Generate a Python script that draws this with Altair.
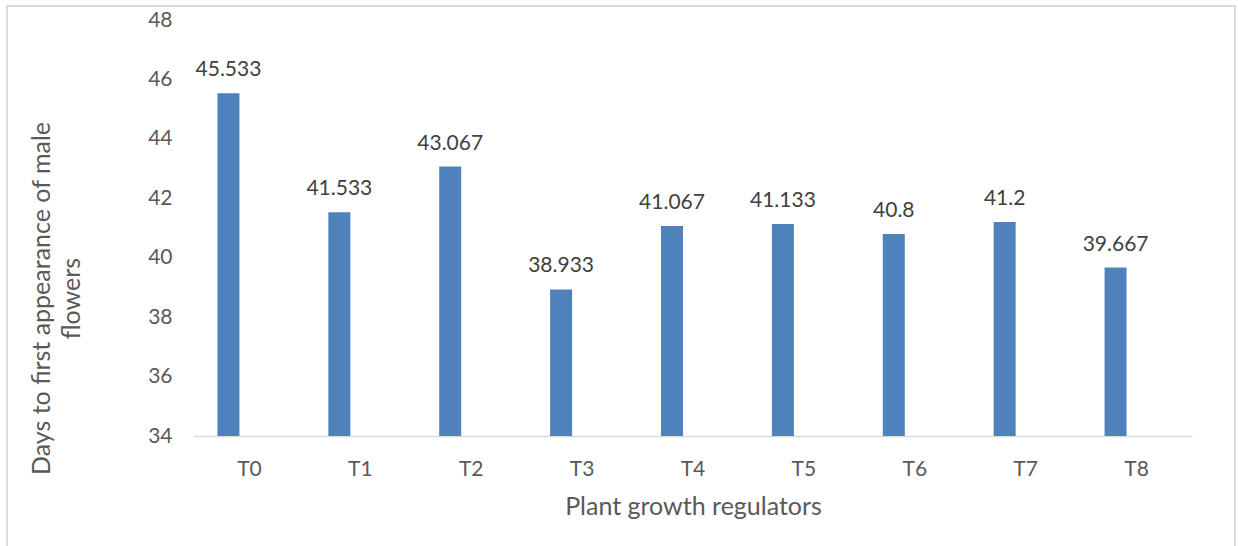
import altair as alt
import pandas as pd

# Treatments and mean days to first male flower
treatments = ["T0", "T1", "T2", "T3", "T4", "T5", "T6", "T7", "T8"]
days = [45.533, 41.533, 43.067, 38.933, 41.067, 41.133, 40.8, 41.2, 39.667]
y_ticks = [34, 36, 38, 40, 42, 44, 46, 48]
y_min, y_max = 34, 48

df = pd.DataFrame({"treatment": treatments, "days": days})

FONT = "Lato"
TEXT = "#595959"
BLUE = "#4F81BD"

W, H = 998, 416
LEFT, TOP = 194, 20

x_enc = alt.X(
    "treatment:N",
    sort=treatments,
    scale=alt.Scale(paddingInner=0, paddingOuter=0),
    axis=alt.Axis(
        title="Plant growth regulators",
        titleFont=FONT, titleFontSize=25, titleFontWeight="normal", titleColor=TEXT,
        titleBaseline="alphabetic", titleY=78,
        labelFont=FONT, labelFontSize=21, labelColor=TEXT, labelPadding=22,
        labelAngle=0,
        domainColor="#d9d9d9", domainWidth=1.5, ticks=False, grid=False,
    ),
)
y_enc = alt.Y(
    "days:Q",
    scale=alt.Scale(domain=[y_min, y_max], nice=False, zero=False),
    axis=alt.Axis(
        values=y_ticks,
        title=["Days to first appearance of male", "flowers"],
        titleFont=FONT, titleFontSize=25, titleFontWeight="normal", titleColor=TEXT,
        titleAngle=-90, titleAlign="center", titleBaseline="bottom",
        titleX=-140, titleY=278, titleLineHeight=30,
        labelFont=FONT, labelFontSize=21, labelColor=TEXT, labelPadding=22,
        domain=False, ticks=False, grid=False,
    ),
)

bars = alt.Chart(df).mark_bar(width=22, xOffset=-21, color=BLUE).encode(
    x=x_enc, y=y_enc, y2=alt.datum(y_min)
)

labels = alt.Chart(df).mark_text(
    dy=-17, xOffset=-21, font=FONT, fontSize=21, color="#404040", baseline="alphabetic"
).encode(
    x=alt.X("treatment:N", sort=treatments),
    y="days:Q",
    text=alt.Text("days:Q", format="~f"),
)

# outer chart frame
frame = alt.Chart(df).mark_rect(
    fill=None, stroke="#d9d9d9", strokeWidth=2
).encode(
    x=alt.value(7 - LEFT), x2=alt.value(1235 - LEFT),
    y=alt.value(6 - TOP), y2=alt.value(560 - TOP),
)

chart = alt.layer(frame, bars, labels).properties(
    width=W, height=H,
    autosize=alt.AutoSizeParams(type="none"),
    padding={"left": LEFT, "top": TOP, "right": 1238 - LEFT - W, "bottom": 546 - TOP - H},
    background="white",
).configure_view(stroke=None)

chart.save("out.html", embed_options={"renderer": "svg", "actions": False})
